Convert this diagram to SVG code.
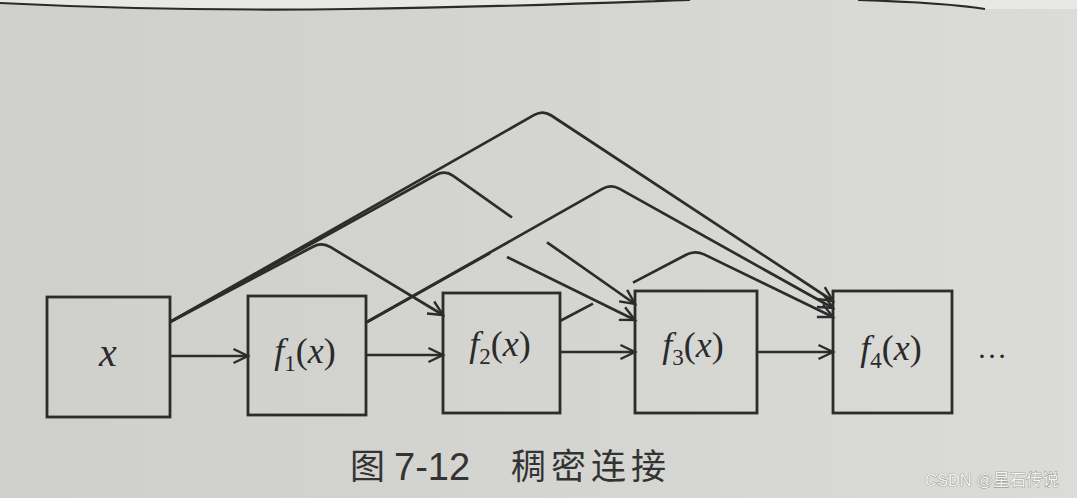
<svg xmlns="http://www.w3.org/2000/svg" width="1077" height="498" viewBox="0 0 1077 498">
  <style>
    .box { fill: none; stroke: #2c2c2c; stroke-width: 2.8; }
    .edge { fill: none; stroke: #2c2c2c; stroke-width: 2.7; stroke-linejoin: round; }
    .lbl { font-family: "Liberation Serif", "Times New Roman", serif; font-size: 36px; fill: #2a2a2a; }
    .it { font-style: italic; }
    .sub { font-size: 23px; }
    .cap { font-family: "Noto Sans CJK SC", "Noto Sans", sans-serif; font-size: 35px; fill: #333333; }
    .capnum { font-family: "Liberation Sans", Arial, sans-serif; font-size: 38px; fill: #333333; }
    .wm { font-family: "Liberation Sans", Arial, "Noto Sans CJK SC", sans-serif; font-size: 16.5px; fill: #f4f4f4; stroke: #7a7a7a; stroke-width: 0.7; paint-order: stroke; }
  </style>
  <defs>
    <linearGradient id="bg" x1="0" y1="0" x2="1" y2="0">
      <stop offset="0" stop-color="#cfcfcb"/>
      <stop offset="0.5" stop-color="#d4d4d0"/>
      <stop offset="1" stop-color="#dbdbd8"/>
    </linearGradient>
    <marker id="arr" markerUnits="userSpaceOnUse" markerWidth="18" markerHeight="16" refX="15" refY="7" orient="auto" overflow="visible">
      <path d="M0.5,0 L15,7 L0.5,14" fill="none" stroke="#2c2c2c" stroke-width="2.4" stroke-linejoin="miter"/>
    </marker>
  </defs>

  <!-- page background -->
  <rect x="0" y="0" width="1077" height="498" fill="url(#bg)"/>
  <path d="M0,0 L0,3 C100,8 200,11 350,9 C500,7 600,3 690,0 Z" fill="#e8e8e6"/>
  <path d="M858,0 C920,2 960,5 985,9 L1077,9 L1077,0 Z" fill="#e8e8e6"/>
  <path d="M0,3 C100,8 200,11 350,9 C500,7 600,3 690,0" fill="none" stroke="#2a2a2a" stroke-width="2.2"/>
  <path d="M858,0 C920,2 960,5 985,9" fill="none" stroke="#2a2a2a" stroke-width="2.2"/>

  <!-- connectors -->
  <g id="connectors">
    <!-- sequential -->
    <path class="edge" d="M170,356 L248,356" marker-end="url(#arr)"/>
    <path class="edge" d="M366,355 L443,355" marker-end="url(#arr)"/>
    <path class="edge" d="M560,352 L635,352" marker-end="url(#arr)"/>
    <path class="edge" d="M757,352 L833,352" marker-end="url(#arr)"/>
    <!-- x -> f2 -->
    <path class="edge" d="M170,322 L313,246.7 Q322,242 330.6,247.2 L443,315" marker-end="url(#arr)"/>
    <!-- x -> f3 (bridged) -->
    <path class="edge" d="M170,322 L436.3,174.8 Q445,170 453.2,175.8 L512,217.5 M547,242.3 L635,304" marker-end="url(#arr)"/>
    <!-- x -> f4 -->
    <path class="edge" d="M170,322 L534.3,114.9 Q543,110 551.3,115.5 L833,301" marker-end="url(#arr)"/>
    <!-- f1 -> f3 -->
    <path class="edge" d="M367,322 L490,253 M507,257 L635,320" marker-end="url(#arr)"/>
    <!-- f1 -> f4 -->
    <path class="edge" d="M367,322 L602.3,188.9 Q611,184 619.7,188.9 L833,308" marker-end="url(#arr)"/>
    <!-- f2 -> f4 (bridged) -->
    <path class="edge" d="M560,321 L593,303.6 M633,282.6 L686.2,254.7 Q695,250 704,254.4 L833,317" marker-end="url(#arr)"/>
  </g>

  <!-- nodes -->
  <g id="node-x">
    <rect class="box" x="47" y="297" width="123" height="120"/>
    <text class="lbl it" x="108" y="366" text-anchor="middle" style="font-size:40px">x</text>
  </g>
  <g id="node-f1">
    <rect class="box" x="248" y="296" width="118" height="119"/>
    <text class="lbl" x="305" y="363" text-anchor="middle"><tspan class="it">f</tspan><tspan class="sub" dy="8">1</tspan><tspan dy="-8">(</tspan><tspan class="it">x</tspan><tspan>)</tspan></text>
  </g>
  <g id="node-f2">
    <rect class="box" x="443" y="293" width="117" height="120"/>
    <text class="lbl" x="500" y="356" text-anchor="middle"><tspan class="it">f</tspan><tspan class="sub" dy="8">2</tspan><tspan dy="-8">(</tspan><tspan class="it">x</tspan><tspan>)</tspan></text>
  </g>
  <g id="node-f3">
    <rect class="box" x="635" y="291" width="122" height="122"/>
    <text class="lbl" x="693" y="357" text-anchor="middle"><tspan class="it">f</tspan><tspan class="sub" dy="8">3</tspan><tspan dy="-8">(</tspan><tspan class="it">x</tspan><tspan>)</tspan></text>
  </g>
  <g id="node-f4">
    <rect class="box" x="833" y="291" width="119" height="122"/>
    <text class="lbl" x="891" y="360" text-anchor="middle"><tspan class="it">f</tspan><tspan class="sub" dy="8">4</tspan><tspan dy="-8">(</tspan><tspan class="it">x</tspan><tspan>)</tspan></text>
  </g>
  <g id="ellipsis">
    <text class="lbl" x="992" y="358" text-anchor="middle" style="font-size:30px">…</text>
  </g>

  <!-- caption -->
  <g id="caption">
    <text class="cap" x="350" y="479">图</text>
    <text class="capnum" x="394" y="480">7-12</text>
    <text class="cap" x="511" y="479" letter-spacing="5">稠密连接</text>
  </g>

  <text class="wm" x="925" y="486">CSDN @星石传说</text>
</svg>
